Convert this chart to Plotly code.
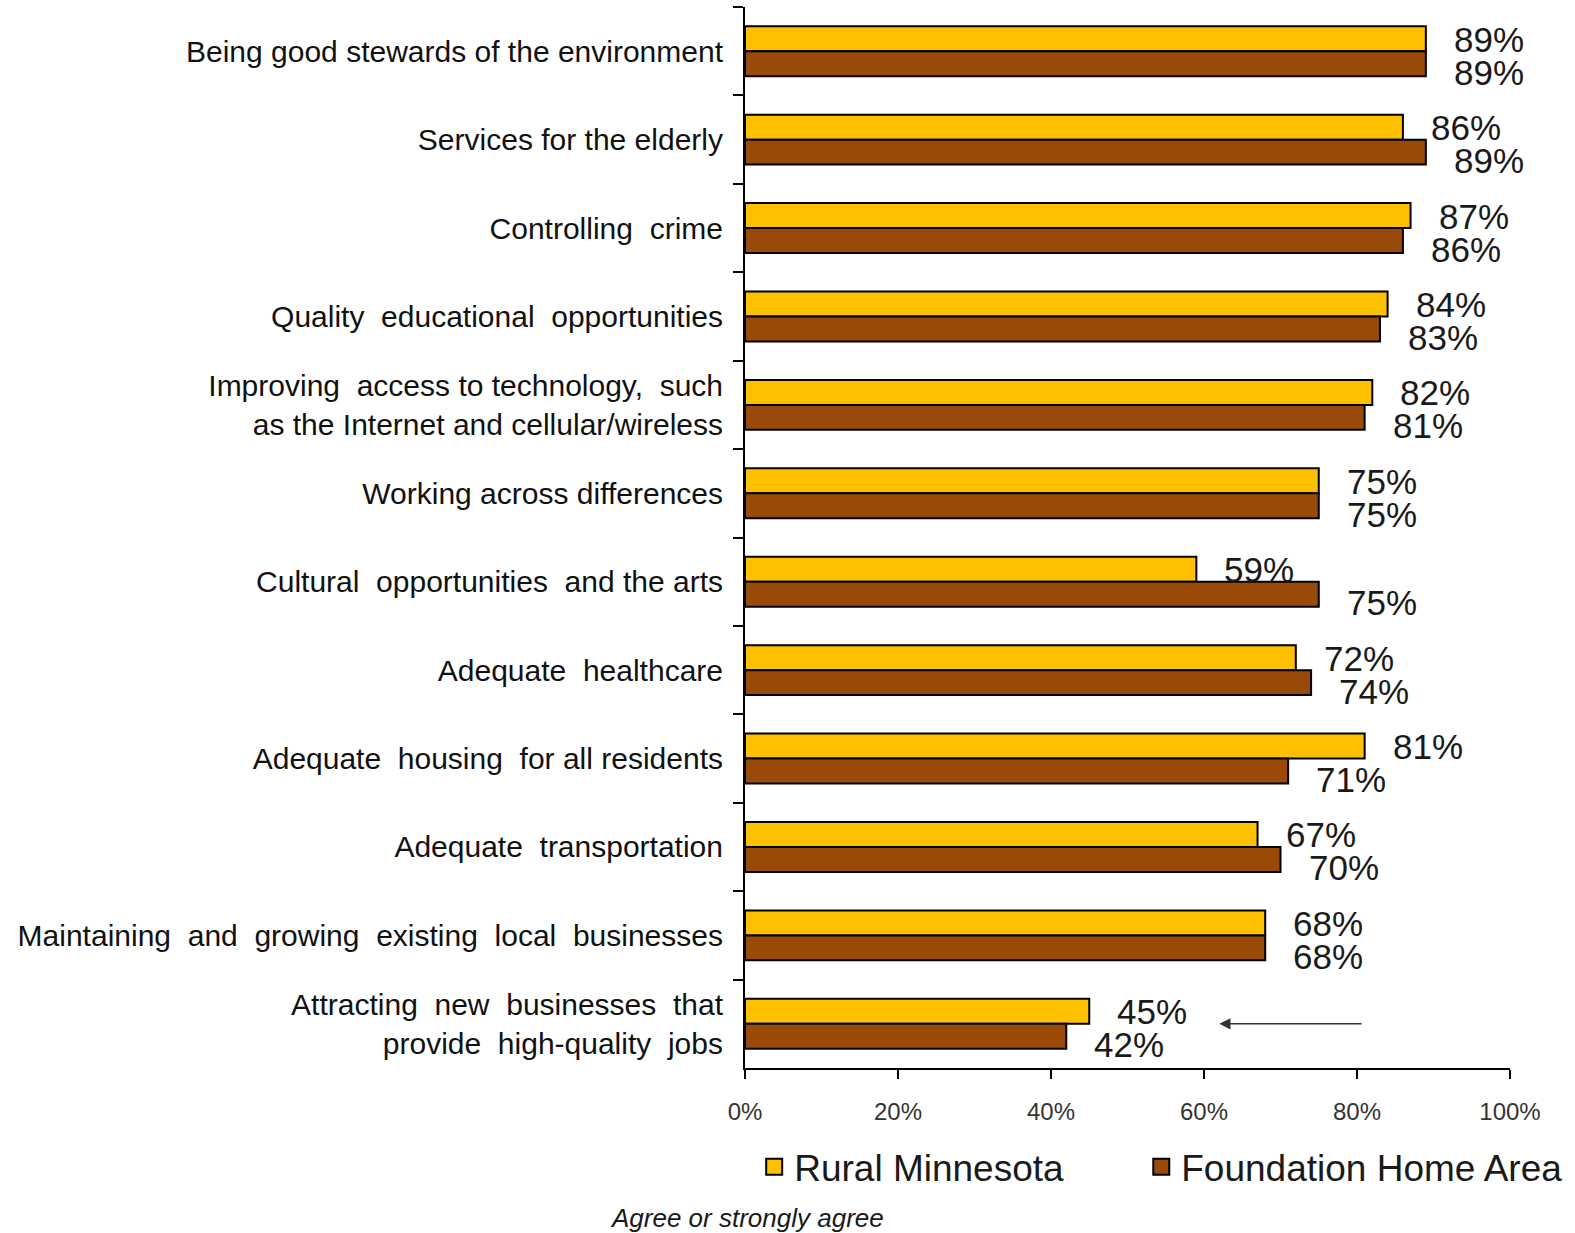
import plotly.graph_objects as go

categories = [
    "Being good stewards of the environment",
    "Services for the elderly",
    "Controlling  crime",
    "Quality  educational  opportunities",
    "Improving  access to technology,  such<br>as the Internet and cellular/wireless",
    "Working across differences",
    "Cultural  opportunities  and the arts",
    "Adequate  healthcare",
    "Adequate  housing  for all residents",
    "Adequate  transportation",
    "Maintaining  and  growing  existing  local  businesses",
    "Attracting  new  businesses  that<br>provide  high-quality  jobs",
]
rural = [89, 86, 87, 84, 82, 75, 59, 72, 81, 67, 68, 45]
foundation = [89, 89, 86, 83, 81, 75, 75, 74, 71, 70, 68, 42]
x_ticks = [0, 20, 40, 60, 80, 100]
x_tick_labels = ["0%", "20%", "40%", "60%", "80%", "100%"]
series_names = ["Rural Minnesota", "Foundation Home Area"]

YELLOW = "#FFC000"
BROWN = "#9A4A08"
FONT = "Liberation Sans, Arial, sans-serif"

fig = go.Figure()
fig.add_trace(go.Bar(y=categories, x=rural, orientation="h", name=series_names[0], showlegend=False,
                     marker=dict(color=YELLOW, line=dict(color="black", width=2))))
fig.add_trace(go.Bar(y=categories, x=foundation, orientation="h", name=series_names[1], showlegend=False,
                     marker=dict(color=BROWN, line=dict(color="black", width=2))))
# legend entries (larger square swatches)
fig.add_trace(go.Scatter(x=[None], y=[None], mode="markers", name=series_names[0], legend="legend",
                         marker=dict(symbol="square", size=16, color=YELLOW, line=dict(color="black", width=2))))
fig.add_trace(go.Scatter(x=[None], y=[None], mode="markers", name=series_names[1], legend="legend2",
                         marker=dict(symbol="square", size=16, color=BROWN, line=dict(color="black", width=2))))

annotations = []
for cat, r, f in zip(categories, rural, foundation):
    annotations.append(dict(x=r, y=cat, xref="x", yref="y", text=f"{r}%", showarrow=False,
                            xanchor="left", yanchor="middle", xshift=26, yshift=12,
                            font=dict(size=35, color="#1a1a1a", family=FONT)))
    annotations.append(dict(x=f, y=cat, xref="x", yref="y", text=f"{f}%", showarrow=False,
                            xanchor="left", yanchor="middle", xshift=26, yshift=-21,
                            font=dict(size=35, color="#1a1a1a", family=FONT)))

# arrow pointing left near the last category
annotations.append(dict(x=62, y=categories[-1], xref="x", yref="y", ax=80.8, ay=categories[-1],
                        axref="x", ayref="y", text="", showarrow=True, arrowhead=2,
                        arrowsize=1.4, arrowwidth=1.6, arrowcolor="#333333"))

annotations.append(dict(x=(747 - 745) / 765.0, y=-0.141, xref="paper", yref="paper",
                        text="<i>Agree or strongly agree</i>", xanchor="center", yanchor="middle",
                        showarrow=False, font=dict(size=26, color="#1a1a1a", family=FONT)))

legend_common = dict(orientation="h", y=-0.0935, xanchor="left", yanchor="middle",
                     font=dict(size=37, color="#1a1a1a", family=FONT),
                     bgcolor="rgba(0,0,0,0)", itemsizing="trace")

fig.update_layout(
    width=1575, height=1233,
    margin=dict(l=745, r=65, t=7, b=165),
    paper_bgcolor="white", plot_bgcolor="white",
    barmode="group", bargap=0.435, bargroupgap=0,
    font=dict(family=FONT, color="#1a1a1a"),
    showlegend=True,
    legend=dict(x=0.012, **legend_common),
    legend2=dict(x=0.518, **legend_common),
    annotations=annotations,
)
fig.update_xaxes(range=[0, 100], tickvals=x_ticks, ticktext=x_tick_labels,
                 showgrid=False, zeroline=False, showline=True, linecolor="black", linewidth=2,
                 ticks="outside", ticklen=9, tickwidth=2, tickcolor="black",
                 tickfont=dict(size=24, color="#333333", family=FONT), ticklabelstandoff=12)
fig.update_yaxes(autorange="reversed", type="category", showgrid=False, zeroline=False,
                 showline=True, linecolor="black", linewidth=2,
                 ticks="outside", ticklen=10, tickwidth=2, tickcolor="black", tickson="boundaries",
                 tickfont=dict(size=30, color="#111111", family=FONT), ticklabelstandoff=14)

fig.write_html("out.html")
